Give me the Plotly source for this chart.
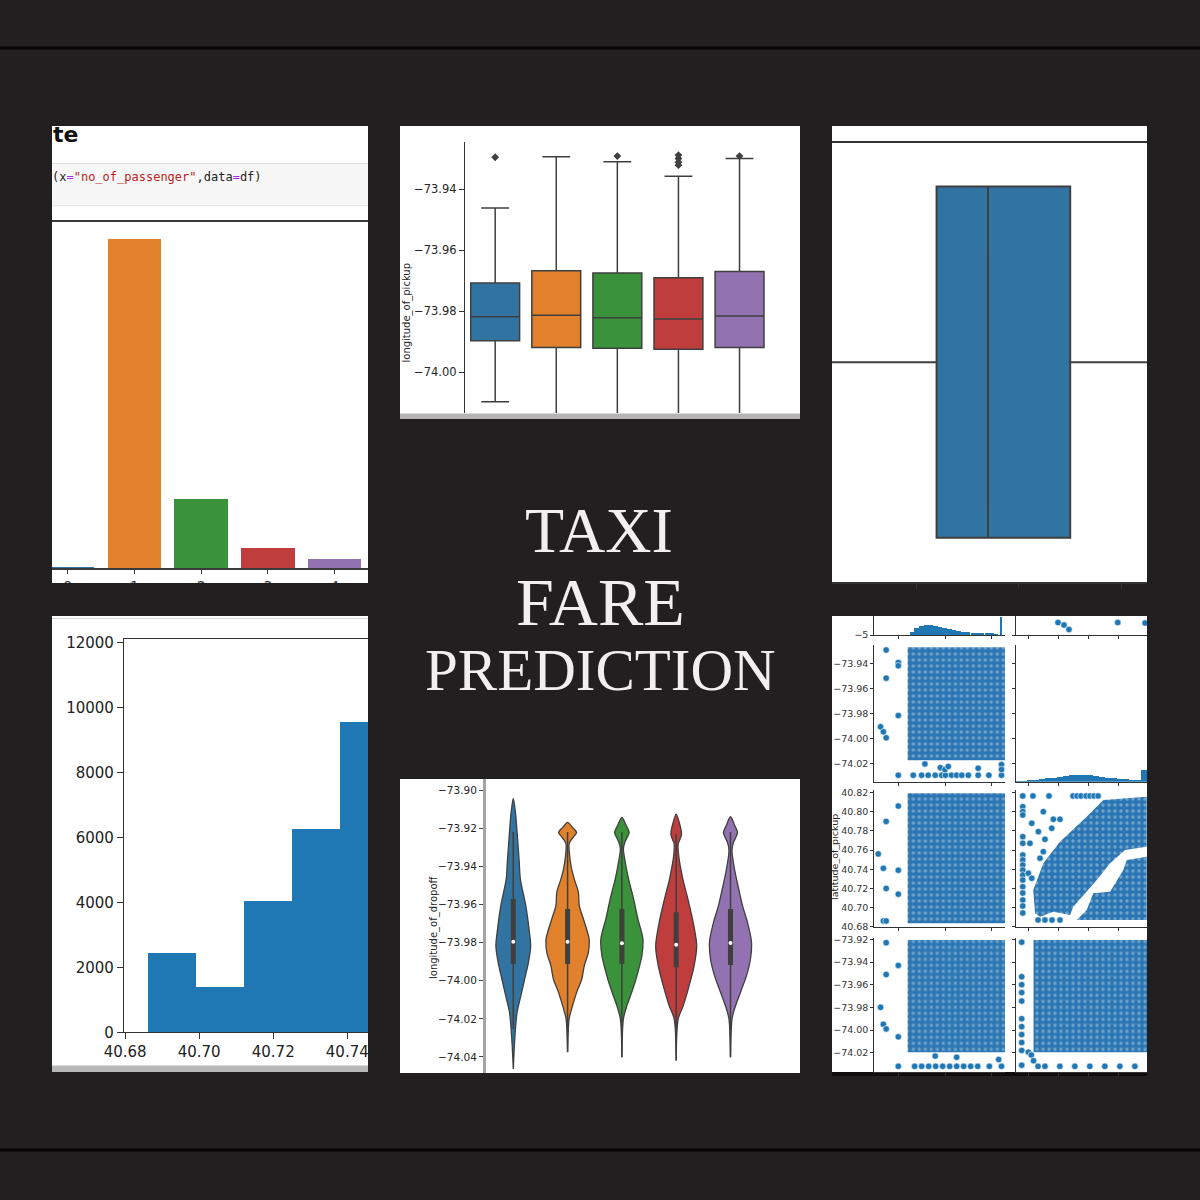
import plotly.graph_objects as go

# ================= DATA =================
# Panel 1: countplot of no_of_passenger
passenger_cats = [0, 1, 2, 3, 4]
passenger_counts = [165, 34808, 7386, 2183, 1016]
palette = ['#3274a1', '#e1812c', '#3a923a', '#c03d3e', '#9372b2']

# Panel 2: boxplot longitude_of_pickup by passengers
box_cats = [0, 1, 2, 3, 4]
box_q1 = [-73.9897, -73.9919, -73.9922, -73.9925, -73.9919]
box_median = [-73.9819, -73.9814, -73.9822, -73.9826, -73.9816]
box_q3 = [-73.9708, -73.9668, -73.9675, -73.9691, -73.9670]
box_low = [-74.0097, -74.0300, -74.0300, -74.0300, -74.0300]
box_high = [-73.9462, -73.9294, -73.9311, -73.9358, -73.9300]
flier_cats = [0, 2, 3, 3, 3, 3, 4]
flier_vals = [-73.9296, -73.9292, -73.9289, -73.9300, -73.9312, -73.9322, -73.9292]
box_ticks = [-74.00, -73.98, -73.96, -73.94]

# Panel 3: boxplot of amount (horizontal)
amount_stats = dict(q1=6.0, median=8.5, q3=12.5, low=-3.5, high=22.25)
amount_ticks = [5, 10, 15]

# Panel 4: histogram of latitude_of_pickup
lat_edges = [40.6862, 40.6992, 40.7121, 40.7251, 40.7381, 40.7510]
lat_counts = [2431, 1385, 4040, 6246, 9548]
hist_xticks = [40.68, 40.70, 40.72, 40.74]
hist_yticks = [0, 2000, 4000, 6000, 8000, 10000, 12000]

# Panel 5: violin profiles of longitude_of_dropoff (value, half-width in category units)
vio_y = [
    [-73.9044, -73.9117, -73.9222, -73.9379, -73.9467, -73.9606, -73.9729, -73.9816, -73.9903, -73.9991, -74.0078, -74.0165, -74.0253, -74.0340, -74.0463],
    [-73.9169, -73.9196, -73.9222, -73.9246, -73.9262, -73.9283, -73.9344, -73.9414, -73.9467, -73.9536, -73.9606, -73.9676, -73.9781, -73.9851, -73.9921, -73.9991, -74.0060, -74.0148, -74.0200, -74.0375],
    [-73.9143, -73.9183, -73.9222, -73.9252, -73.9274, -73.9309, -73.9397, -73.9467, -73.9571, -73.9676, -73.9781, -73.9869, -73.9956, -74.0043, -74.0131, -74.0200, -74.0401],
    [-73.9126, -73.9178, -73.9231, -73.9262, -73.9283, -73.9344, -73.9467, -73.9571, -73.9694, -73.9816, -73.9921, -74.0026, -74.0131, -74.0200, -74.0419],
    [-73.9140, -73.9183, -73.9222, -73.9252, -73.9274, -73.9318, -73.9414, -73.9502, -73.9606, -73.9694, -73.9798, -73.9886, -73.9973, -74.0060, -74.0148, -74.0200, -74.0401],
]
vio_w = [
    [0, 0.04, 0.07, 0.11, 0.13, 0.23, 0.29, 0.32, 0.28, 0.21, 0.14, 0.07, 0.04, 0.02, 0],
    [0, 0.09, 0.166, 0.11, 0.065, 0.028, 0.037, 0.074, 0.123, 0.199, 0.215, 0.291, 0.396, 0.383, 0.308, 0.262, 0.169, 0.074, 0.028, 0],
    [0, 0.074, 0.134, 0.092, 0.055, 0.028, 0.074, 0.123, 0.215, 0.295, 0.387, 0.368, 0.295, 0.203, 0.092, 0.028, 0],
    [0, 0.064, 0.098, 0.064, 0.037, 0.046, 0.123, 0.215, 0.313, 0.378, 0.331, 0.239, 0.129, 0.037, 0],
    [0, 0.074, 0.129, 0.092, 0.055, 0.028, 0.074, 0.138, 0.221, 0.313, 0.387, 0.368, 0.295, 0.184, 0.074, 0.028, 0],
]
vin_low = [-74.0253, -74.0373, -74.0401, -74.0419, -74.0401]
vin_high = [-73.9220, -73.9220, -73.9220, -73.9231, -73.9220]
vin_q1 = [-73.9912, -73.9912, -73.9912, -73.9929, -73.9917]
vin_q3 = [-73.9571, -73.9624, -73.9624, -73.9641, -73.9624]
vin_med = [-73.9795, -73.9795, -73.9804, -73.9811, -73.9802]
vio_ticks = [-74.04, -74.02, -74.00, -73.98, -73.96, -73.94, -73.92, -73.90]

# Panel 6: pair plot (amount, longitude_of_pickup, latitude_of_pickup, longitude_of_dropoff)
amt_hist_x = [3, 4, 5, 6, 7, 8, 9, 10, 11, 12, 13, 14, 15, 16, 17, 18, 19, 20, 21, 22.2]
amt_hist_n = [300, 700, 900, 1000, 1000, 900, 800, 700, 600, 500, 400, 350, 300, 250, 200, 200, 150, 150, 100, 1770]
lonp_hist_x = [-74.027, -74.023, -74.019, -74.015, -74.011, -74.007, -74.003, -73.999, -73.995, -73.991, -73.987,
               -73.983, -73.979, -73.975, -73.971, -73.967, -73.963, -73.959, -73.955, -73.951, -73.947, -73.943]
lonp_hist_n = [20, 50, 120, 200, 280, 350, 420, 500, 600, 680, 720, 700, 640, 560, 480, 420, 360, 300, 250, 200, 150, 1200]

r1c2_lon = [-74.0002, -73.9962, -73.9929, -73.9604, -73.9422]
r1c2_amt = [-2.5, -3.0, -3.9, -2.5, -2.6]

dense_amt = [2.0, 22.85]
r2c1_dense_lon = [-74.0175, -73.9272]
r2c1_amt = [-3.8, -3.2, -2.6, -2.6, -2.6, 0, 0, 0, 0, 3.2, 5.0, 6.4, 7.9, 9.3, 10.1, 11.4, 12.5, 13.6, 15.0, 17.1, 19.4, 22.1,
            5.7, 9.0, 10.0, 10.7, 17.1, 22.1, 22.1]
r2c1_lon = [-73.9908, -73.9948, -73.9996, -73.9294, -73.9519, -73.9394, -73.9420, -73.9818, -74.0295,
            -74.0295, -74.0295, -74.0295, -74.0295, -74.0295, -74.0295, -74.0295, -74.0295, -74.0295, -74.0295, -74.0295, -74.0295, -74.0295,
            -74.0205, -74.0235, -74.0250, -74.0225, -74.0240, -74.0210, -74.0250]

r3c1_dense_lat = [40.6836, 40.8194]
r3c1_amt = [-4.3, -3.2, -2.6, -2.6, -3.2, -2.6, 0, 0, 0]
r3c1_lat = [40.756, 40.741, 40.790, 40.720, 40.686, 40.686, 40.806, 40.739, 40.714]

manhattan_lon = [-74.0155, -74.0167, -74.0100, -73.9989, -73.9811, -73.9700, -73.9411, -73.9411, -73.9555, -73.9655,
                 -73.9744, -73.9833, -73.9900, -73.9922, -74.0033, -74.0122]
manhattan_lat = [40.6940, 40.7184, 40.7462, 40.7688, 40.7949, 40.8124, 40.8158, 40.7636, 40.7601, 40.7462,
                 40.7288, 40.7131, 40.7009, 40.6922, 40.6957, 40.6904]
brooklyn_lon = [-73.9767, -73.9655, -73.9567, -73.9544, -73.9411, -73.9411, -73.9877, -73.9811]
brooklyn_lat = [40.7149, 40.7166, 40.7392, 40.7497, 40.7531, 40.6870, 40.6870, 40.6975]
r3c2_lon = [-74.0237] * 17 + [-74.0169, -74.0062, -73.9902, -73.9875, -73.9849, -73.9815, -73.9789, -73.9762, -73.9735,
            -74.0135, -74.0089, -74.0042, -73.9989,
            -74.0100, -74.0177, -74.0133, -74.0033, -73.9989, -74.0044, -74.0089, -74.0189, -74.0100, -74.0122, -74.0200, -74.0177]
r3c2_lat = [40.8166, 40.8054, 40.8002, 40.7967, 40.7740, 40.7671, 40.7549, 40.7497, 40.7445, 40.7392, 40.7340, 40.7288,
            40.7218, 40.7152, 40.7079, 40.7016, 40.6943,
            40.8166, 40.8166, 40.8166, 40.8166, 40.8166, 40.8166, 40.8166, 40.8166, 40.8166,
            40.6870, 40.6870, 40.6870, 40.6870,
            40.8002, 40.7880, 40.7793, 40.7922, 40.7922, 40.7828, 40.7713, 40.7671, 40.7584, 40.7515, 40.7358, 40.7306]

r4c1_dense_lond = [-74.0195, -73.9206]
r4c1_amt = [-3.8, -3.2, -2.6, -2.6, -2.6, 0, 0, 0, 3.5, 5.0, 6.5, 8.0, 9.5, 11.0, 12.5, 14.0, 15.5, 17.0, 19.5, 22.1, 7.9, 12.5, 21.5]
r4c1_lond = [-73.980, -73.995, -73.999, -73.923, -73.951, -73.943, -74.006, -74.032,
             -74.032, -74.032, -74.032, -74.032, -74.032, -74.032, -74.032, -74.032, -74.032, -74.032, -74.032, -74.032,
             -74.023, -74.024, -74.026]

r4c2_dense_lon = [-74.0165, -73.9400]
r4c2_lon = [-74.0244] * 11 + [-74.0135, -74.0089, -73.999, -73.989, -73.979, -73.969, -73.959, -73.949, -74.020, -74.018, -74.0165]
r4c2_lond = [-73.9225, -73.953, -73.960, -73.967, -73.9745, -73.990, -73.997, -74.004, -74.011, -74.018, -74.031,
             -74.032, -74.032, -74.032, -74.032, -74.032, -74.032, -74.032, -74.032, -74.0195, -74.022, -74.027]

amt_ticks = [0, 10, 20]
lonp_ticks = [-74.02, -74.00, -73.98, -73.96, -73.94]
lat_ticks = [40.68, 40.70, 40.72, 40.74, 40.76, 40.78, 40.80, 40.82]
lond_ticks = [-74.02, -74.00, -73.98, -73.96, -73.94, -73.92]

# ================= HELPERS =================
W = H = 1200
BG = '#221f20'
EDGE = '#3f3f3f'
PT = '#1f77b4'


def fx(px):
    return px / W


def fy(py):
    return 1 - py / H


def dx(a, b):
    return [fx(a), fx(b)]


def dy(top, bottom):
    return [fy(bottom), fy(top)]


def fmt(v, nd=2):
    return f"{v:.{nd}f}".replace('-', '\u2212')


def axis(domain, rng, anchor, **kw):
    d = dict(domain=domain, range=rng, anchor=anchor, showgrid=False, zeroline=False,
             showline=False, ticks='', showticklabels=False, fixedrange=True, automargin=False)
    d.update(kw)
    return d


fig = go.Figure()

# ---------- Panel 1: countplot ----------
fig.add_trace(go.Bar(x=passenger_cats, y=passenger_counts, width=0.8,
                     marker=dict(color=palette, line=dict(width=0)), xaxis='x', yaxis='y'))

# ---------- Panel 2: boxplot ----------
for i, c in enumerate(box_cats):
    fig.add_trace(go.Box(x=[c], q1=[box_q1[i]], median=[box_median[i]], q3=[box_q3[i]],
                         lowerfence=[box_low[i]], upperfence=[box_high[i]], width=0.8, whiskerwidth=0.57,
                         fillcolor=palette[i], line=dict(color=EDGE, width=1.5), boxpoints=False,
                         xaxis='x2', yaxis='y2'))
fig.add_trace(go.Scatter(x=flier_cats, y=flier_vals, mode='markers',
                         marker=dict(symbol='diamond', size=6, color=EDGE), xaxis='x2', yaxis='y2'))

# ---------- Panel 3: horizontal box ----------
fig.add_trace(go.Box(y=[0], orientation='h', q1=[amount_stats['q1']], median=[amount_stats['median']],
                     q3=[amount_stats['q3']], lowerfence=[amount_stats['low']], upperfence=[amount_stats['high']],
                     width=0.8, whiskerwidth=0, fillcolor='#3274a1', line=dict(color=EDGE, width=2),
                     boxpoints=False, xaxis='x3', yaxis='y3'))

# ---------- Panel 4: histogram ----------
lat_centers = [(lat_edges[i] + lat_edges[i + 1]) / 2 for i in range(len(lat_counts))]
lat_widths = [lat_edges[i + 1] - lat_edges[i] for i in range(len(lat_counts))]
fig.add_trace(go.Bar(x=lat_centers, y=lat_counts, width=lat_widths,
                     marker=dict(color='#1f77b4', line=dict(width=0)), xaxis='x4', yaxis='y4'))

# ---------- Panel 5: violins ----------
for i in range(5):
    ys = vio_y[i]
    ws = vio_w[i]
    xs = [i + w for w in ws] + [i - w for w in ws[::-1]]
    yy = ys + ys[::-1]
    fig.add_trace(go.Scatter(x=xs, y=yy, mode='lines', fill='toself', fillcolor=palette[i],
                             line=dict(color=EDGE, width=1.3, shape='spline', smoothing=0.8),
                             xaxis='x5', yaxis='y5'))
    fig.add_trace(go.Scatter(x=[i, i], y=[vin_low[i], vin_high[i]], mode='lines',
                             line=dict(color=EDGE, width=1.5), xaxis='x5', yaxis='y5'))
    fig.add_trace(go.Scatter(x=[i, i], y=[vin_q1[i], vin_q3[i]], mode='lines',
                             line=dict(color=EDGE, width=5), xaxis='x5', yaxis='y5'))
    fig.add_trace(go.Scatter(x=[i], y=[vin_med[i]], mode='markers',
                             marker=dict(color='white', size=4), xaxis='x5', yaxis='y5'))

# ---------- Panel 6: pair plot ----------
DENSE = '#2c77b3'
dense_pattern = dict(shape='.', bgcolor=DENSE, fgcolor='#b4cfe6', size=6, solidity=0.25)


def dense_poly(xs, ys, xa, ya):
    fig.add_trace(go.Scatter(x=xs + xs[:1], y=ys + ys[:1], mode='lines', fill='toself', fillcolor=DENSE,
                             fillpattern=dense_pattern, line=dict(width=0, color='rgba(0,0,0,0)'),
                             xaxis=xa, yaxis=ya))


def dense_rect(xr, yr, xa, ya):
    dense_poly([xr[0], xr[1], xr[1], xr[0]], [yr[0], yr[0], yr[1], yr[1]], xa, ya)


def pts(xs, ys, xa, ya):
    fig.add_trace(go.Scatter(x=xs, y=ys, mode='markers',
                             marker=dict(size=6.5, color=PT, line=dict(color='white', width=0.6)),
                             xaxis=xa, yaxis=ya))


# row1 col1 histogram of amount (own hidden axes x16/y7)
amt_w = [0.95] * (len(amt_hist_x) - 1) + [0.35]
fig.add_trace(go.Bar(x=amt_hist_x, y=amt_hist_n, width=amt_w, marker=dict(color=PT, line=dict(width=0)),
                     xaxis='x16', yaxis='y7'))
# row1 col1 axes (spines / ticks), amount vs amount
pts([], [], 'x6', 'y6')
# row1 col2
pts(r1c2_lon, r1c2_amt, 'x8', 'y8')
# row2 col1
dense_rect(dense_amt, r2c1_dense_lon, 'x9', 'y9')
pts(r2c1_amt, r2c1_lon, 'x9', 'y9')
# row2 col2 histogram of longitude_of_pickup (own hidden axes x17/y10)
fig.add_trace(go.Bar(x=lonp_hist_x, y=lonp_hist_n, width=[0.0036] * len(lonp_hist_x),
                     marker=dict(color=PT, line=dict(width=0)), xaxis='x17', yaxis='y10'))
pts([], [], 'x10', 'y15')
# row3 col1
dense_rect(dense_amt, r3c1_dense_lat, 'x11', 'y11')
pts(r3c1_amt, r3c1_lat, 'x11', 'y11')
# row3 col2
dense_poly(manhattan_lon, manhattan_lat, 'x12', 'y12')
dense_poly(brooklyn_lon, brooklyn_lat, 'x12', 'y12')
pts(r3c2_lon, r3c2_lat, 'x12', 'y12')
# row4 col1
dense_rect(dense_amt, r4c1_dense_lond, 'x13', 'y13')
pts(r4c1_amt, r4c1_lond, 'x13', 'y13')
# row4 col2
dense_rect(r4c2_dense_lon, r4c1_dense_lond, 'x14', 'y14')
pts(r4c2_lon, r4c2_lond, 'x14', 'y14')

# ================= LAYOUT =================
lay = {}
# Panel 1
lay['xaxis'] = axis(dx(52, 368), [-0.235, 4.50], 'y', showline=True, mirror=True, linecolor='#3a3a3a', linewidth=1.5,
                    ticks='outside', ticklen=4, tickcolor='#3a3a3a', tickvals=passenger_cats,
                    ticktext=[str(c) for c in passenger_cats], showticklabels=True,
                    tickfont=dict(size=14, color='#333333'))
lay['yaxis'] = axis(dy(221.5, 568.3), [0, 36548], 'x')
# Panel 2
lay['xaxis2'] = axis(dx(465, 800), [-0.494, 4.99], 'y2')
lay['yaxis2'] = axis(dy(142, 413), [-74.0134, -73.9246], 'x2', showline=True, linecolor='#333333', linewidth=1.2,
                     ticks='outside', ticklen=5, tickcolor='#333333', tickvals=box_ticks,
                     ticktext=[fmt(v) for v in box_ticks], showticklabels=True,
                     tickfont=dict(size=11.5, color='#262626'))
# Panel 3
lay['xaxis3'] = axis(dx(832, 1147), [0.914, 16.235], 'y3', showline=True, mirror=True, linecolor='#333333',
                     linewidth=1.5, ticks='outside', ticklen=6, tickcolor='#333333', tickvals=amount_ticks)
lay['yaxis3'] = axis(dy(142.7, 581.7), [-0.5, 0.5], 'x3')
# Panel 4
lay['xaxis4'] = axis(dx(124, 368), [40.6797, 40.7456], 'y4', showline=True, mirror=True, linecolor='#333333',
                     linewidth=1.2, ticks='outside', ticklen=6, tickcolor='#333333', tickvals=hist_xticks,
                     ticktext=[fmt(v) for v in hist_xticks], showticklabels=True,
                     tickfont=dict(size=15, color='#222222'))
lay['yaxis4'] = axis(dy(639.3, 1032.3), [0, 12092], 'x4', showline=True, linecolor='#333333', linewidth=1.2,
                     ticks='outside', ticklen=6, tickcolor='#333333', tickvals=hist_yticks,
                     ticktext=[str(v) for v in hist_yticks], showticklabels=True,
                     tickfont=dict(size=15, color='#222222'))
# Panel 5
lay['xaxis5'] = axis(dx(485.7, 800), [-0.508, 5.28], 'y5')
lay['yaxis5'] = axis(dy(779, 1073), [-74.0484, -73.8942], 'x5', showline=True, linecolor='#a3a3a3', linewidth=2.5,
                     ticks='outside', ticklen=4, tickcolor='#444444', tickvals=vio_ticks,
                     ticktext=[fmt(v) for v in vio_ticks], showticklabels=True,
                     tickfont=dict(size=10.5, color='#262626'))

# Panel 6 pair plot axes
col1 = dx(874.3, 1005)
col2 = dx(1016, 1147)
amt_rng = [-5.14, 22.85]
lonp_rng = [-74.0282, -73.9409]
sp = dict(showline=True, linecolor='#333333', linewidth=1, ticks='outside', ticklen=3, tickcolor='#333333')
ytf = dict(size=9.5, color='#333333')


def pair_x(dom, rng, anchor, ticks):
    return axis(dom, rng, anchor, tickvals=ticks, **sp)


def pair_y(dom, rng, anchor, ticks, labels):
    d = axis(dom, rng, anchor, tickvals=ticks, **sp)
    if labels:
        d.update(showticklabels=True, ticktext=[fmt(v) for v in ticks], tickfont=ytf)
    return d


r1 = dy(616, 635)
r2 = dy(645, 781.7)
r3 = dy(790, 926.7)
r4 = dy(938.3, 1072)
r1_rng = [-5, -1.2]
r2_rng = [-74.0347, -73.9254]
r3_rng = [40.68, 40.8228]
r4_rng = [-74.037, -73.9191]

lay['xaxis6'] = pair_x(col1, amt_rng, 'y6', amt_ticks)
lay['yaxis6'] = axis(r1, r1_rng, 'x6', tickvals=[-5], ticktext=['\u22125'], showticklabels=True, tickfont=ytf, **sp)
lay['xaxis16'] = axis(col1, amt_rng, 'y7', visible=False)
lay['yaxis7'] = axis(r1, [0, 1900], 'x16', visible=False)
lay['xaxis8'] = pair_x(col2, lonp_rng, 'y8', lonp_ticks)
lay['yaxis8'] = axis(r1, r1_rng, 'x8', tickvals=[-5], **sp)
lay['xaxis9'] = pair_x(col1, amt_rng, 'y9', amt_ticks)
lay['yaxis9'] = pair_y(r2, r2_rng, 'x9', lonp_ticks, True)
lay['xaxis10'] = pair_x(col2, lonp_rng, 'y15', lonp_ticks)
lay['yaxis15'] = pair_y(r2, r2_rng, 'x10', lonp_ticks, False)
lay['xaxis17'] = axis(col2, lonp_rng, 'y10', visible=False)
lay['yaxis10'] = axis(r2, [0, 13670], 'x17', visible=False)
lay['xaxis11'] = pair_x(col1, amt_rng, 'y11', amt_ticks)
lay['yaxis11'] = pair_y(r3, r3_rng, 'x11', lat_ticks, True)
lay['xaxis12'] = pair_x(col2, lonp_rng, 'y12', lonp_ticks)
lay['yaxis12'] = pair_y(r3, r3_rng, 'x12', lat_ticks, False)
lay['xaxis13'] = pair_x(col1, amt_rng, 'y13', amt_ticks)
lay['yaxis13'] = pair_y(r4, r4_rng, 'x13', lond_ticks, True)
lay['xaxis14'] = pair_x(col2, lonp_rng, 'y14', lonp_ticks)
lay['yaxis14'] = pair_y(r4, r4_rng, 'x14', lond_ticks, False)


# ---------- shapes ----------
def rect(x0, y0, x1, y1, color, layer='below'):
    return dict(type='rect', xref='paper', yref='paper', x0=fx(x0), x1=fx(x1), y0=fy(y1), y1=fy(y0),
                fillcolor=color, line=dict(width=0), layer=layer)


def hline(py, x0, x1, color, width, layer='below'):
    return dict(type='line', xref='paper', yref='paper', x0=fx(x0), x1=fx(x1), y0=fy(py), y1=fy(py),
                line=dict(color=color, width=width), layer=layer)


shapes = [
    hline(48, 0, 1200, '#050505', 3),
    hline(1150, 0, 1200, '#050505', 3),
    rect(52, 126, 368, 583, 'white'),
    rect(400, 126, 800, 418, 'white'),
    rect(832, 126, 1147, 583, 'white'),
    rect(52, 616, 368, 1072, 'white'),
    rect(400, 779, 800, 1073, 'white'),
    rect(832, 616, 1147, 1073, 'white'),
    rect(52, 163.5, 368, 205.7, '#f7f7f7'),
    hline(163.5, 52, 368, '#dddddd', 1),
    hline(205.7, 52, 368, '#e3e3e3', 1),
    rect(400, 413.5, 800, 419, '#b4b4b4'),
    rect(52, 1065.5, 368, 1072, '#b8b8b8'),
    hline(618.5, 52, 368, '#d9d9d9', 1),
    rect(832, 1072, 1147, 1076, '#0d0d0d'),
    rect(38, 583, 382, 612, BG, 'above'),
    rect(368, 600, 399, 1090, BG, 'above'),
]

# ---------- annotations ----------
code_html = ('(x<span style="color:#aa22ff">=</span><span style="color:#ba2121">"no_of_passenger"</span>'
             ',data<span style="color:#aa22ff">=</span>df)')
title_font = 'Liberation Serif'
annotations = [
    dict(x=fx(51), y=fy(134), xref='paper', yref='paper', text='<b>te</b>', showarrow=False,
         xanchor='left', yanchor='middle', font=dict(family='DejaVu Sans', size=22, color='#111111')),
    dict(x=fx(50), y=fy(177), xref='paper', yref='paper', text=code_html, showarrow=False,
         xanchor='left', yanchor='middle', font=dict(family='DejaVu Sans Mono', size=12, color='#222222')),
    dict(x=fx(599), y=fy(530), xref='paper', yref='paper', text='TAXI', showarrow=False,
         xanchor='center', yanchor='middle', font=dict(family=title_font, size=64, color='#f1efef')),
    dict(x=fx(600), y=fy(602), xref='paper', yref='paper', text='FARE', showarrow=False,
         xanchor='center', yanchor='middle', font=dict(family=title_font, size=68, color='#f1efef')),
    dict(x=fx(600), y=fy(670), xref='paper', yref='paper', text='PREDICTION', showarrow=False,
         xanchor='center', yanchor='middle', font=dict(family=title_font, size=59, color='#f1efef')),
    dict(x=fx(406.5), y=fy(313), xref='paper', yref='paper', text='longitude_of_pickup', showarrow=False,
         textangle=-90, xanchor='center', yanchor='middle', font=dict(size=10, color='#262626')),
    dict(x=fx(434), y=fy(927), xref='paper', yref='paper', text='longitude_of_dropoff', showarrow=False,
         textangle=-90, xanchor='center', yanchor='middle', font=dict(size=10, color='#262626')),
    dict(x=fx(835), y=fy(857), xref='paper', yref='paper', text='latitude_of_pickup', showarrow=False,
         textangle=-90, xanchor='center', yanchor='middle', font=dict(size=9.5, color='#262626')),
]

fig.update_layout(
    width=W, height=H, margin=dict(l=0, r=0, t=0, b=0, pad=0, autoexpand=False),
    paper_bgcolor=BG, plot_bgcolor='rgba(0,0,0,0)',
    showlegend=False, font=dict(family='DejaVu Sans', color='#333333'),
    shapes=shapes, annotations=annotations, bargap=0, boxmode='overlay',
    **lay,
)

fig.write_html('out.html', config={'displayModeBar': False},
               post_script="document.body.style.margin='0';document.body.style.background='#221f20';")
